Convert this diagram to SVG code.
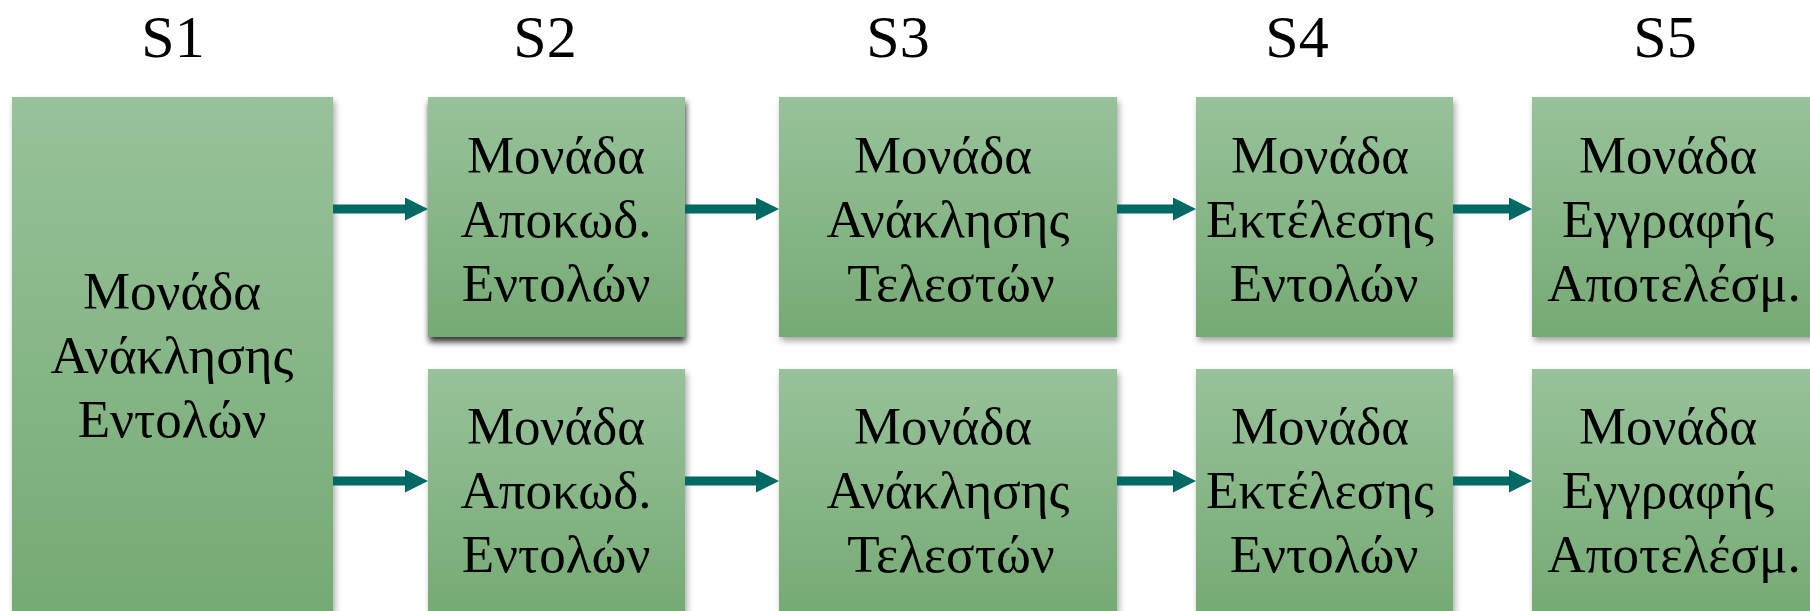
<svg xmlns="http://www.w3.org/2000/svg" width="1810" height="611" viewBox="0 0 1810 611">
  <defs>
    <linearGradient id="boxFill" x1="0" y1="0" x2="0" y2="1">
      <stop offset="0" stop-color="#98C29A"/>
      <stop offset="1" stop-color="#76AA74"/>
    </linearGradient>
    <filter id="shadow" x="-10%" y="-10%" width="125%" height="125%">
      <feDropShadow dx="2" dy="4" stdDeviation="3" flood-color="#000" flood-opacity="0.35"/>
    </filter>
    <filter id="shadowDark" x="-10%" y="-10%" width="125%" height="125%">
      <feDropShadow dx="1" dy="5" stdDeviation="3" flood-color="#000" flood-opacity="0.8"/>
    </filter>
    <marker id="head" markerUnits="userSpaceOnUse" markerWidth="23" markerHeight="23" refX="0" refY="11.5" orient="auto">
      <path d="M0,0 L23,11.5 L0,23 Z" fill="#006964"/>
    </marker>
  </defs>
  <style>
    .box { fill: url(#boxFill); filter: url(#shadow); }
    .dark { filter: url(#shadowDark); }
    .lbl { font-family: "Liberation Serif", "Times New Roman", serif; font-size: 53px; fill: #000; text-anchor: middle; }
    .stage { font-family: "Liberation Serif", "Times New Roman", serif; font-size: 60px; fill: #000; text-anchor: middle; }
    .conn { stroke: #006964; stroke-width: 9; fill: none; marker-end: url(#head); }
  </style>

  <!-- stage headings -->
  <g id="stages">
    <text class="stage" x="173" y="57">S1</text>
    <text class="stage" x="545" y="57">S2</text>
    <text class="stage" x="898" y="57">S3</text>
    <text class="stage" x="1297" y="57">S4</text>
    <text class="stage" x="1665" y="57">S5</text>
  </g>

  <!-- S1: shared fetch unit -->
  <g id="fetch">
    <rect class="box" x="12" y="97" width="321" height="516"/>
    <text class="lbl"><tspan x="172" y="309">Μονάδα</tspan><tspan x="172" y="373">Ανάκλησης</tspan><tspan x="172" y="437">Εντολών</tspan></text>
  </g>

  <!-- upper pipeline -->
  <g id="decode1">
    <rect class="box dark" x="428" y="97" width="257" height="240"/>
    <text class="lbl"><tspan x="556" y="173">Μονάδα</tspan><tspan x="556" y="237">Αποκωδ.</tspan><tspan x="556" y="301">Εντολών</tspan></text>
  </g>
  <g id="operands1">
    <rect class="box" x="779" y="97" width="338" height="240"/>
    <text class="lbl"><tspan x="943" y="173">Μονάδα</tspan><tspan x="948" y="237">Ανάκλησης</tspan><tspan x="951" y="301">Τελεστών</tspan></text>
  </g>
  <g id="execute1">
    <rect class="box" x="1196" y="97" width="257" height="240"/>
    <text class="lbl"><tspan x="1320" y="173">Μονάδα</tspan><tspan x="1320" y="237">Εκτέλεσης</tspan><tspan x="1324" y="301">Εντολών</tspan></text>
  </g>
  <g id="writeback1">
    <rect class="box" x="1532" y="97" width="290" height="240"/>
    <text class="lbl"><tspan x="1668" y="173">Μονάδα</tspan><tspan x="1668" y="237">Εγγραφής</tspan><tspan x="1674" y="301">Αποτελέσμ.</tspan></text>
  </g>

  <!-- lower pipeline -->
  <g id="decode2">
    <rect class="box" x="428" y="369" width="257" height="244"/>
    <text class="lbl"><tspan x="556" y="444">Μονάδα</tspan><tspan x="556" y="508">Αποκωδ.</tspan><tspan x="556" y="572">Εντολών</tspan></text>
  </g>
  <g id="operands2">
    <rect class="box" x="779" y="369" width="338" height="244"/>
    <text class="lbl"><tspan x="943" y="444">Μονάδα</tspan><tspan x="948" y="508">Ανάκλησης</tspan><tspan x="951" y="572">Τελεστών</tspan></text>
  </g>
  <g id="execute2">
    <rect class="box" x="1196" y="369" width="257" height="244"/>
    <text class="lbl"><tspan x="1320" y="444">Μονάδα</tspan><tspan x="1320" y="508">Εκτέλεσης</tspan><tspan x="1324" y="572">Εντολών</tspan></text>
  </g>
  <g id="writeback2">
    <rect class="box" x="1532" y="369" width="290" height="244"/>
    <text class="lbl"><tspan x="1668" y="444">Μονάδα</tspan><tspan x="1668" y="508">Εγγραφής</tspan><tspan x="1674" y="572">Αποτελέσμ.</tspan></text>
  </g>

  <!-- connectors: each line stops where its arrowhead begins -->
  <g id="connectors">
    <line class="conn" x1="333" y1="209" x2="405" y2="209"/>
    <line class="conn" x1="685" y1="209" x2="756" y2="209"/>
    <line class="conn" x1="1117" y1="209" x2="1173" y2="209"/>
    <line class="conn" x1="1453" y1="209" x2="1509" y2="209"/>
    <line class="conn" x1="333" y1="481" x2="405" y2="481"/>
    <line class="conn" x1="685" y1="481" x2="756" y2="481"/>
    <line class="conn" x1="1117" y1="481" x2="1173" y2="481"/>
    <line class="conn" x1="1453" y1="481" x2="1509" y2="481"/>
  </g>
</svg>
